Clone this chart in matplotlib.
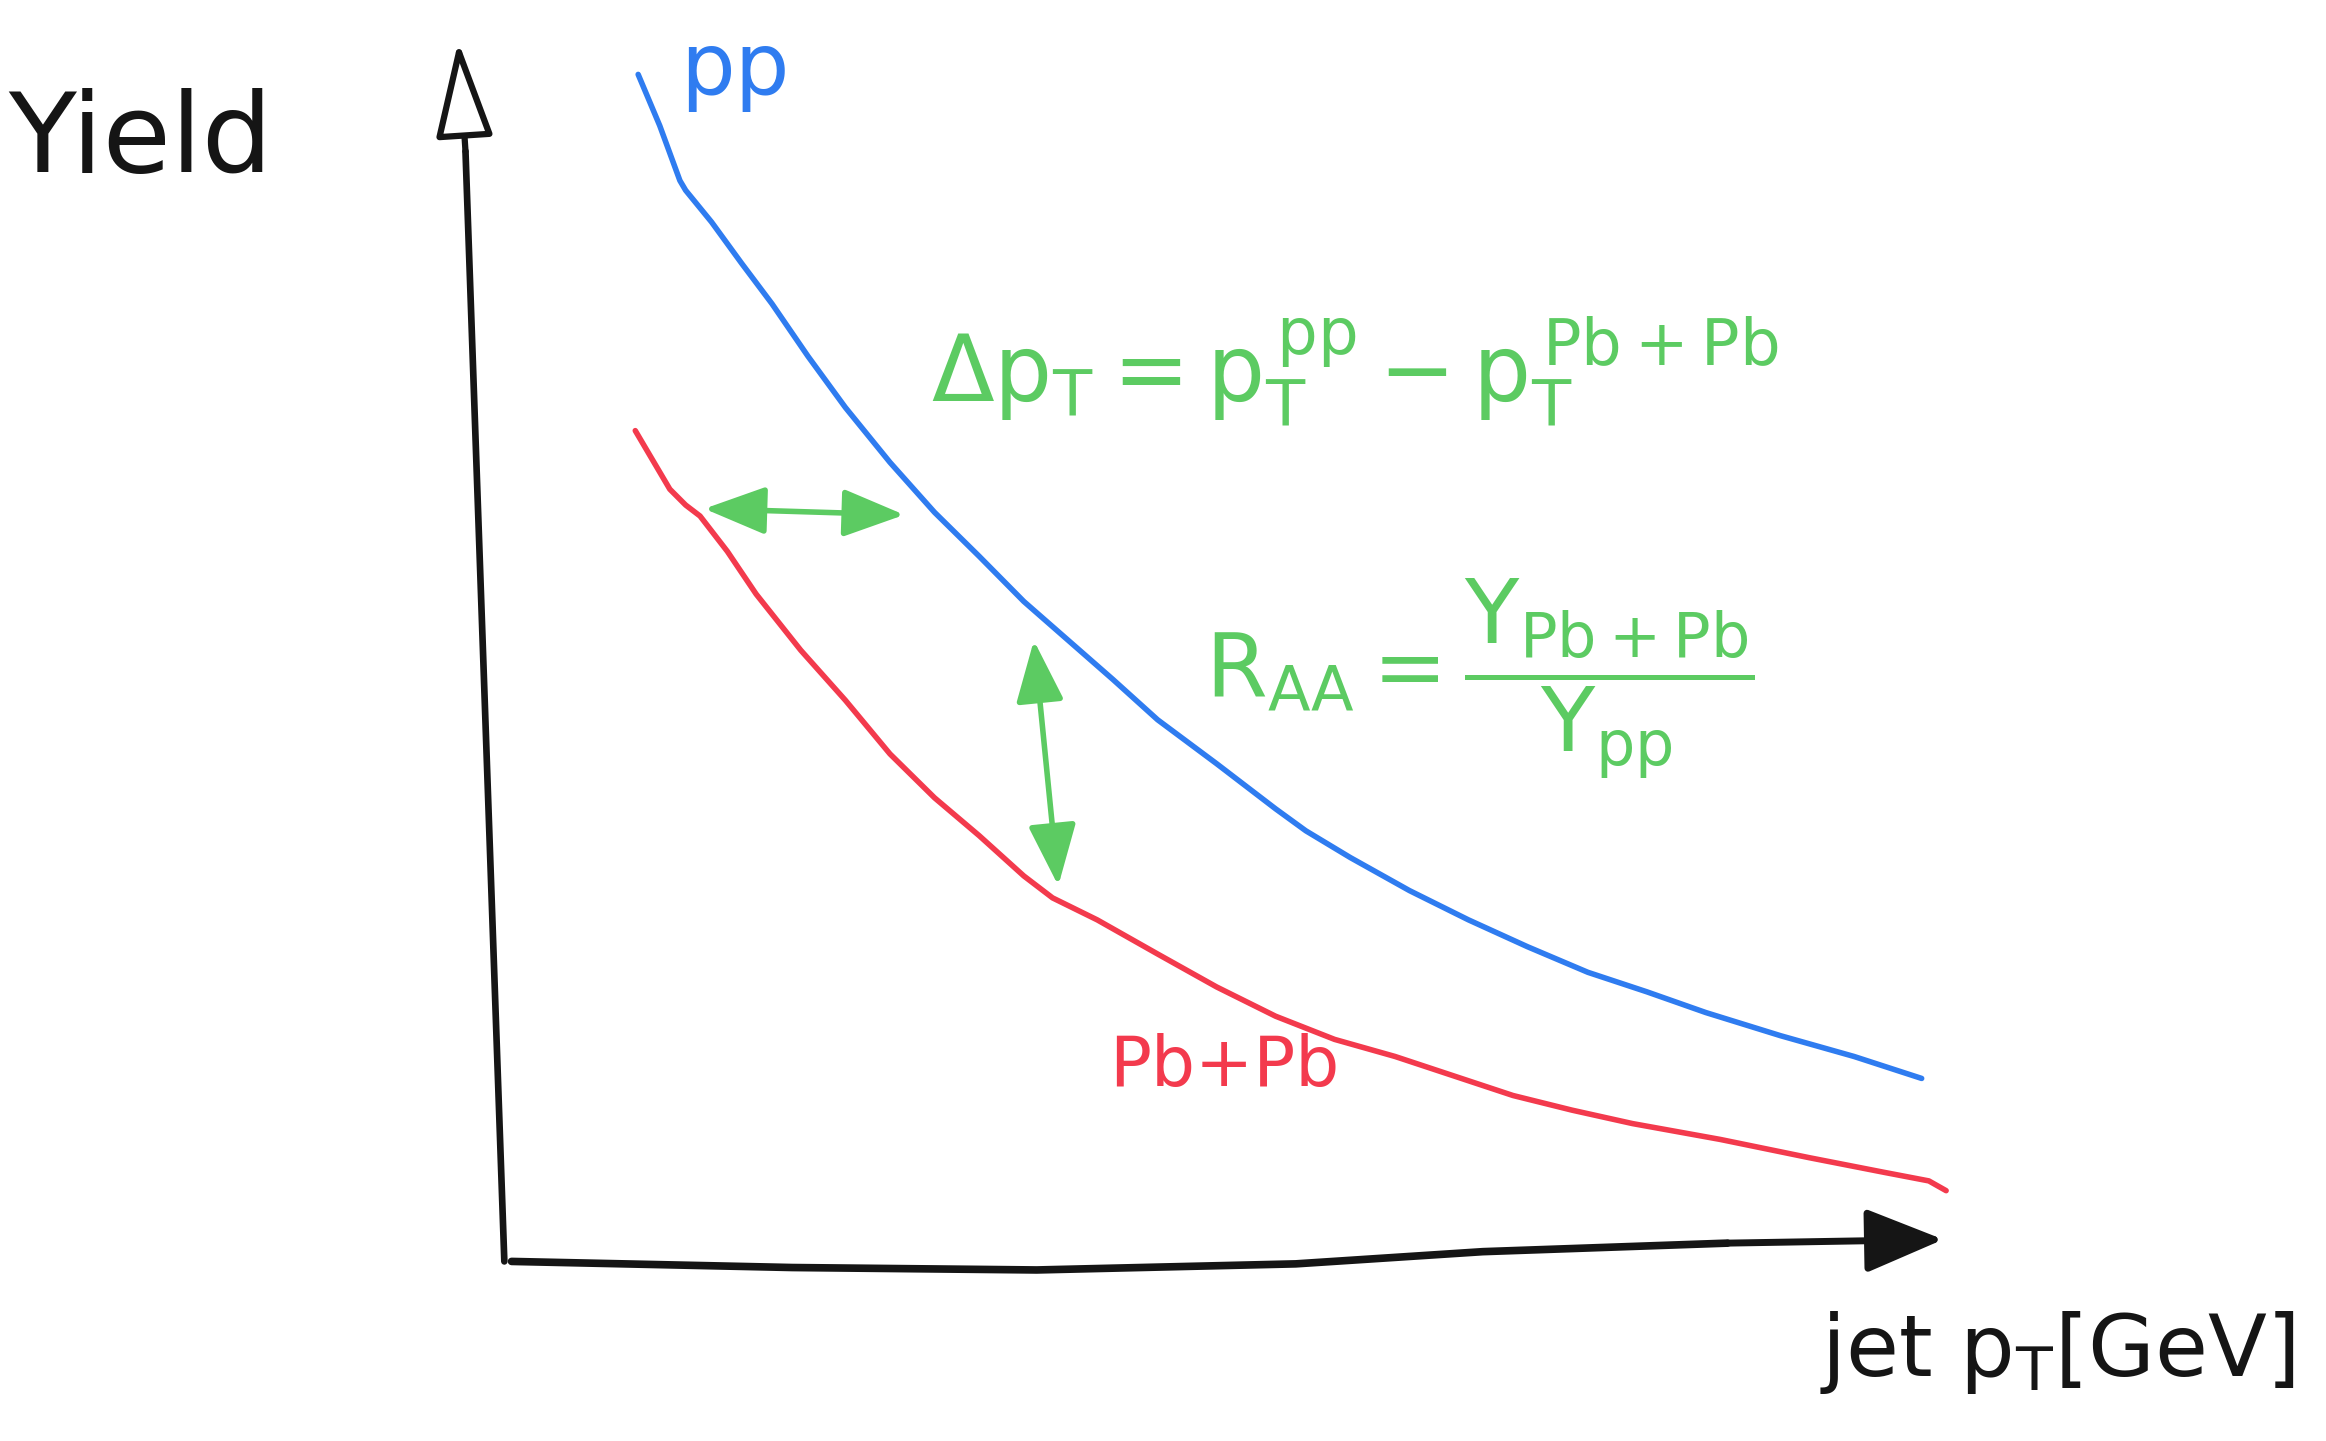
import matplotlib

matplotlib.use("Agg")
import matplotlib.pyplot as plt
import numpy as np

plt.rcParams["font.family"] = ["DejaVu Sans"]
plt.rcParams["mathtext.fontset"] = "dejavusans"

# Sketch of jet spectra: pp reference and suppressed Pb+Pb yield (arbitrary units)
pp_pt = np.array([9.3, 10.8, 12.2, 12.6, 14.4, 16.5, 18.6, 21.1, 23.7, 26.8, 29.9, 33.0,
                  36.1, 39.2, 42.3, 45.4, 49.5, 53.6, 55.7, 58.8, 62.9, 67.0, 71.1, 75.3,
                  79.4, 83.5, 88.7, 93.8, 98.5])
pp_yield = np.array([97.3, 93.1, 88.6, 87.8, 85.2, 81.8, 78.5, 74.2, 70.0, 65.5, 61.4, 57.8,
                     54.1, 50.9, 47.7, 44.4, 40.8, 37.1, 35.3, 33.1, 30.4, 28.0, 25.8, 23.7,
                     22.1, 20.4, 18.5, 16.8, 15.0])

pbpb_pt = np.array([9.1, 10.3, 11.5, 12.6, 13.6, 15.5, 17.5, 20.6, 23.7, 26.8, 29.9, 33.0,
                    36.1, 38.1, 41.2, 45.4, 49.5, 53.6, 57.7, 61.9, 66.0, 70.1, 74.2, 78.4,
                    84.5, 90.7, 95.9, 99.0, 100.2])
pbpb_yield = np.array([68.1, 65.7, 63.3, 62.0, 61.1, 58.2, 54.7, 50.1, 46.0, 41.6, 38.0, 34.9,
                       31.6, 29.8, 28.0, 25.2, 22.5, 20.1, 18.2, 16.8, 15.2, 13.6, 12.4, 11.3,
                       10.0, 8.5, 7.3, 6.6, 5.8])

# hand-drawn axes
yaxis_x = [0.0, -2.7, -3.2]
yaxis_y = [0.0, 91.0, 100.0]
xaxis_x = [0.5, 20.0, 37.0, 55.0, 68.0, 85.0, 100.0]
xaxis_y = [0.0, -0.5, -0.7, -0.2, 0.8, 1.5, 1.8]

# shift arrows between the spectra
dpt_arrow_x = [13.9, 27.8]
dpt_arrow_y = [61.7, 61.2]
raa_arrow_x = [36.8, 38.5]
raa_arrow_y = [50.9, 30.8]

BLUE = "#2f7cf0"
RED = "#f33a4d"
GREEN = "#5ccb62"
INK = "#151515"

fig = plt.figure(figsize=(23.26, 14.41), dpi=100)
ax = fig.add_axes([0, 0, 1, 1])
ax.set_xlim(-35.05, 126.6)
ax.set_ylim(-14.72, 103.4)
ax.axis("off")

# axes with arrow heads
ax.plot(yaxis_x[:-1], yaxis_y[:-1], color=INK, lw=4.8, solid_capstyle="round")
ax.annotate("", xy=(yaxis_x[-1], yaxis_y[-1]), xytext=(yaxis_x[-2], yaxis_y[-2]),
            arrowprops=dict(arrowstyle="-|>,head_length=1.0,head_width=0.3",
                            mutation_scale=60, lw=4.5, color=INK, fc="white",
                            shrinkA=0, shrinkB=0))
ax.plot(xaxis_x[:-1], xaxis_y[:-1], color=INK, lw=5.5, solid_capstyle="round",
        solid_joinstyle="round")
ax.annotate("", xy=(xaxis_x[-1], xaxis_y[-1]), xytext=(xaxis_x[-2], xaxis_y[-2]),
            arrowprops=dict(arrowstyle="-|>,head_length=0.8,head_width=0.33",
                            mutation_scale=60, lw=5.0, color=INK, fc=INK,
                            shrinkA=0, shrinkB=0))

# spectra
ax.plot(pp_pt, pp_yield, color=BLUE, lw=4.0, solid_capstyle="round", solid_joinstyle="round")
ax.plot(pbpb_pt, pbpb_yield, color=RED, lw=4.0, solid_capstyle="round", solid_joinstyle="round")

# double arrows for the pT shift and the yield ratio
for xs, ys in ((dpt_arrow_x, dpt_arrow_y), (raa_arrow_x, raa_arrow_y)):
    ax.annotate("", xy=(xs[1], ys[1]), xytext=(xs[0], ys[0]),
                arrowprops=dict(arrowstyle="<|-|>,head_length=0.9,head_width=0.35",
                                mutation_scale=42, lw=4.0, color=GREEN,
                                shrinkA=0, shrinkB=0))

# labels
ax.text(-25.3, 91.8, "Yield", fontsize=80, color=INK, ha="center", va="center")
ax.text(107.9, -7.5, r"jet $\mathrm{p_T}$[GeV]", fontsize=62, color=INK,
        ha="center", va="center")
ax.text(16.0, 97.6, "pp", fontsize=62, color=BLUE, ha="center", va="center")
ax.text(50.0, 16.0, "Pb+Pb", fontsize=50, color=RED, ha="center", va="center")

ax.text(59.1, 73.0, r"$\mathrm{\Delta p_T = p_T^{\,pp} - p_T^{\,Pb+Pb}}$",
        fontsize=66, color=GREEN, ha="center", va="center")
ax.text(67.8, 47.8, r"$\mathrm{R_{AA} = \dfrac{Y_{Pb+Pb}}{Y_{pp}}}$",
        fontsize=64, color=GREEN, ha="center", va="center")

fig.savefig("out.png", dpi=100, facecolor="white")
